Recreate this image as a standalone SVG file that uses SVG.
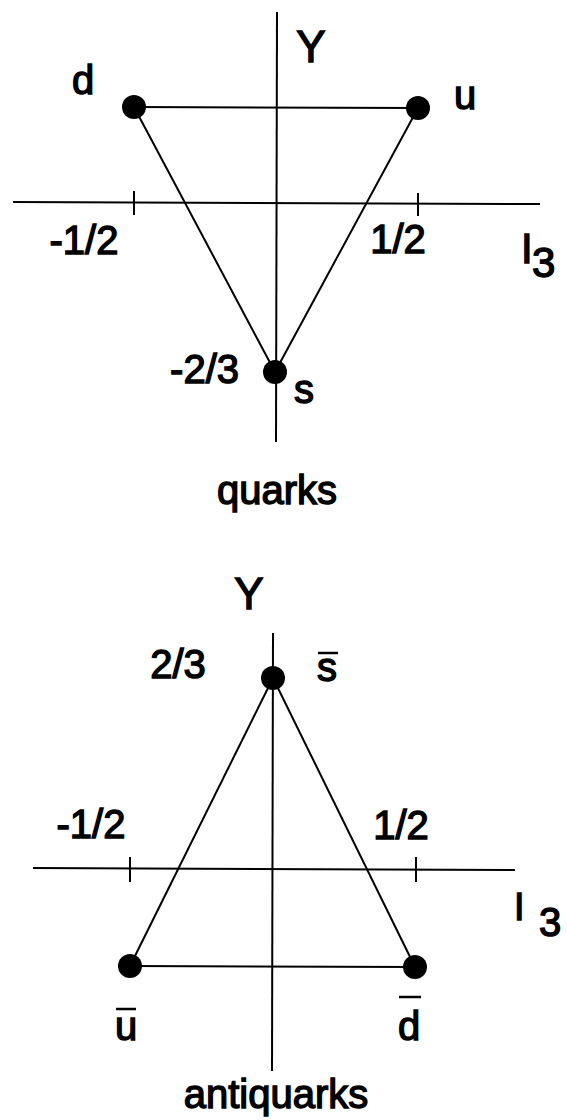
<svg xmlns="http://www.w3.org/2000/svg" width="567" height="1120" viewBox="0 0 567 1120">
<style>
.ax{stroke:#000;stroke-width:2;fill:none}
.ed{stroke:#000;stroke-width:2;fill:none}
.dot{fill:#000}
.t{font-family:"Liberation Sans",Arial,sans-serif;font-size:40px;fill:#000;stroke:#000;stroke-width:1.4}
.bar{stroke:#000;stroke-width:2.5}
</style>
<rect width="567" height="1120" fill="#fff"/>
<g id="axes-top">
<line class="ax" x1="13" y1="202" x2="540" y2="204"/>
<line class="ax" x1="277" y1="12" x2="276" y2="442"/>
<line class="ax" x1="134" y1="191" x2="134" y2="215"/>
<line class="ax" x1="418" y1="193" x2="418" y2="216"/>
<text class="t" x="84" y="254" text-anchor="middle">-1/2</text>
<text class="t" x="398" y="253" text-anchor="middle">1/2</text>
<text class="t" x="311" y="62" text-anchor="middle" style="font-size:44px">Y</text>
<text class="t" x="521" y="263" style="font-size:42px">I</text>
<text class="t" x="532" y="277" style="font-size:42px">3</text>
<text class="t" x="239" y="383" text-anchor="end">-2/3</text>
<text class="t" x="277" y="504" text-anchor="middle">quarks</text>
</g>
<g id="connectors-top">
<line class="ed" x1="134" y1="107" x2="418" y2="108"/>
<line class="ed" x1="134" y1="107" x2="275" y2="372"/>
<line class="ed" x1="418" y1="108" x2="275" y2="372"/>
</g>
<g id="node-d">
<circle class="dot" cx="134" cy="107" r="12"/>
<text class="t" x="72" y="94">d</text>
</g>
<g id="node-u">
<circle class="dot" cx="418" cy="108" r="12"/>
<text class="t" x="454" y="109">u</text>
</g>
<g id="node-s">
<circle class="dot" cx="275" cy="372" r="12"/>
<text class="t" x="294" y="403">s</text>
</g>
<g id="axes-bottom">
<line class="ax" x1="33" y1="868" x2="515" y2="870"/>
<line class="ax" x1="273" y1="633" x2="272" y2="1071"/>
<line class="ax" x1="130" y1="857" x2="130" y2="882"/>
<line class="ax" x1="416" y1="857" x2="416" y2="882"/>
<text class="t" x="91" y="838" text-anchor="middle">-1/2</text>
<text class="t" x="401" y="839" text-anchor="middle">1/2</text>
<text class="t" x="249" y="609" text-anchor="middle" style="font-size:44px">Y</text>
<text class="t" x="178" y="678" text-anchor="middle">2/3</text>
<text class="t" x="514" y="920" style="font-size:38px">I</text>
<text class="t" x="539" y="936" style="font-size:40px">3</text>
<text class="t" x="276" y="1108" text-anchor="middle">antiquarks</text>
</g>
<g id="connectors-bottom">
<line class="ed" x1="130" y1="966" x2="415" y2="967"/>
<line class="ed" x1="130" y1="966" x2="273" y2="678"/>
<line class="ed" x1="415" y1="967" x2="273" y2="678"/>
</g>
<g id="node-sbar">
<circle class="dot" cx="273" cy="678" r="12"/>
<line class="bar" x1="318" y1="653" x2="338" y2="653"/>
<text class="t" x="317" y="681">s</text>
</g>
<g id="node-ubar">
<circle class="dot" cx="130" cy="966" r="12"/>
<line class="bar" x1="116" y1="1009" x2="136" y2="1009"/>
<text class="t" x="115" y="1040">u</text>
</g>
<g id="node-dbar">
<circle class="dot" cx="415" cy="967" r="12"/>
<line class="bar" x1="399" y1="997" x2="421" y2="997"/>
<text class="t" x="398" y="1040">d</text>
</g>
</svg>
